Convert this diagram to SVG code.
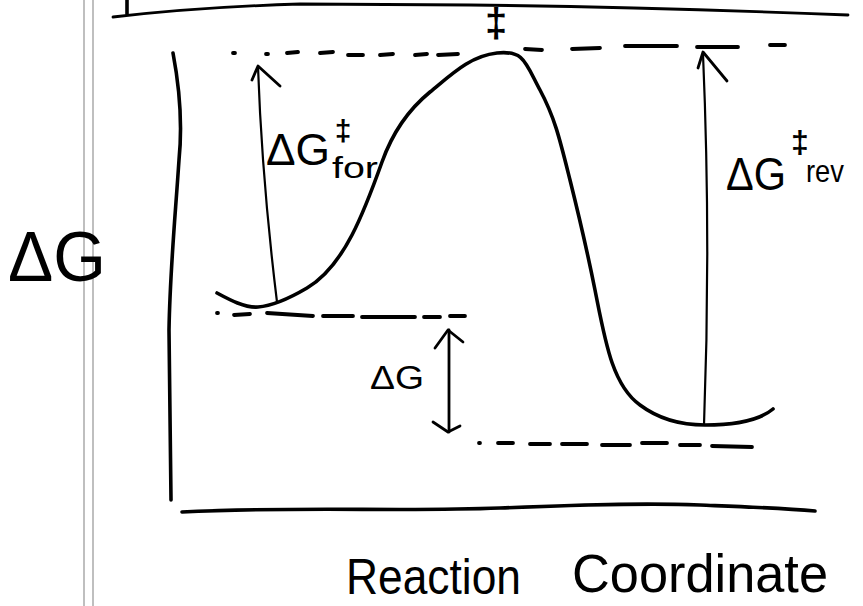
<svg xmlns="http://www.w3.org/2000/svg" width="863" height="606" viewBox="0 0 863 606">
<style>
.ink{fill:none;stroke:#000;stroke-linecap:round;stroke-linejoin:round}
.thick{stroke-width:3.6}
.med{stroke-width:2.8}
.thin{stroke-width:2.2}
.dash{fill:none;stroke:#000;stroke-width:3.8;stroke-linecap:round}
.guide{fill:none;stroke:#8a8a8a;stroke-width:1.1}
.lbl{font-family:"Liberation Sans","DejaVu Sans",sans-serif;fill:#000}
</style>
<rect width="863" height="606" fill="#fff"/>
<g id="margin">
<line class="guide" x1="84" y1="0" x2="84" y2="606"/>
<line class="guide" x1="93" y1="0" x2="93" y2="606"/>
</g>
<g id="frame">
<path class="ink thick" d="M127,0 L127,14"/>
<path class="ink med" d="M113,17 Q200,7 300,4 L470,5 Q650,7 848,15"/>
<path class="ink thick" d="M173,53 C180,90 182,130 179,160 C175,220 170,270 169,330 L171,500"/>
<path class="ink thick" d="M182,512 C300,506 400,512 500,508 S650,503 700,505 S780,508 815,511"/>
</g>
<g id="levels">
<path class="dash" d="M233,53 L235,53 M266,54 L268,54 M287,53 L298,52 M320,53 L333,52 M348,55 L363,55 M380,55 L393,54 M415,55 L427,54 M438,55 L458,54 M525,49 L542,50 M572,49 L600,48 M625,46 L677,46 M697,47 L738,47 M770,45 L785,45"/>
<path class="dash" d="M217,313 L218,313 M234,315 L250,314 M267,313 L313,316 M323,316 L353,316 M362,317 L415,317 M424,317 L440,317 M450,316 L465,316"/>
<path class="dash" d="M479,443 L480,443 M498,443 L513,443 M530,444 L550,444 M562,444 L587,444 M602,445 L630,445 M642,443 L667,443 M680,445 L700,445 M712,446 L752,447"/>
</g>
<g id="energy-curve">
<path class="ink thick" d="M217,293 C230,300 245,308 258,307 S290,298 307,288 S340,258 352,235 S372,190 382,162 S408,110 430,92 S470,56 497,53 S525,62 540,90 S560,140 570,180 S585,240 595,290 C605,340 612,385 640,405 C660,420 685,425 705,425 C735,425 760,420 773,409"/>
</g>
<g id="connectors">
<path class="ink thin" d="M277,302 Q262,180 258,67"/>
<path class="ink med" d="M252,80 L258,66 L280,86"/>
<path class="ink thin" d="M704,425 Q711,240 703,54"/>
<path class="ink med" d="M698,68 L703,52 L727,81"/>
<path class="ink med" d="M449,330 L449,432"/>
<path class="ink med" d="M435,348 L448,330 L463,342"/>
<path class="ink med" d="M433,422 L448,432 L460,426"/>
</g>
<g id="label-ts">
<text class="lbl" x="496" y="37" font-size="40" font-weight="bold" text-anchor="middle">‡</text>
</g>
<g id="label-dg-for">
<text class="lbl" x="266" y="165" font-size="44" textLength="64" lengthAdjust="spacingAndGlyphs">ΔG</text>
<text class="lbl" x="343" y="141" font-size="30" font-weight="bold" text-anchor="middle">‡</text>
<text class="lbl" x="332" y="178" font-size="30" textLength="46" lengthAdjust="spacingAndGlyphs">for</text>
</g>
<g id="label-dg-rev">
<text class="lbl" x="726" y="190" font-size="46" textLength="60" lengthAdjust="spacingAndGlyphs">ΔG</text>
<text class="lbl" x="800" y="153" font-size="32" font-weight="bold" text-anchor="middle">‡</text>
<text class="lbl" x="806" y="182" font-size="32" textLength="38" lengthAdjust="spacingAndGlyphs">rev</text>
</g>
<g id="label-dg">
<text class="lbl" x="370" y="389" font-size="34" textLength="54" lengthAdjust="spacingAndGlyphs">ΔG</text>
</g>
<g id="axis-y-label">
<text class="lbl" x="8" y="281" font-size="70" textLength="98" lengthAdjust="spacingAndGlyphs">ΔG</text>
</g>
<g id="axis-x-label">
<text class="lbl" x="346" y="594" font-size="50" textLength="175" lengthAdjust="spacingAndGlyphs">Reaction</text>
<text class="lbl" x="572" y="592" font-size="54" textLength="256" lengthAdjust="spacingAndGlyphs">Coordinate</text>
</g>
</svg>
